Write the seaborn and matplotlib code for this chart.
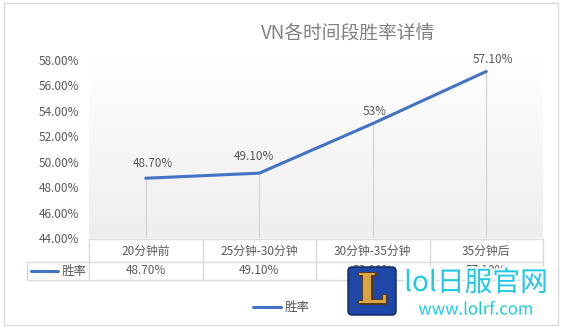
import numpy as np
import pandas as pd
import matplotlib
matplotlib.use("Agg")
import matplotlib.pyplot as plt
import seaborn as sns
from matplotlib.patches import Rectangle, FancyBboxPatch
import matplotlib.patheffects as pe

# ---- data ----
categories = ["20分钟前", "25分钟-30分钟", "30分钟-35分钟", "35分钟后"]
win_rate = [48.7, 49.1, 53.0, 57.1]
point_labels = ["48.70%", "49.10%", "53%", "57.10%"]
table_labels = ["48.70%", "49.10%", "53.00%", "57.10%"]
y_ticks = [44, 46, 48, 50, 52, 54, 56, 58]
y_tick_labels = ["44.00%", "46.00%", "48.00%", "50.00%", "52.00%", "54.00%", "56.00%", "58.00%"]
series_name = "胜率"
title = "VN各时间段胜率详情"

sns.set_theme(style="white")
plt.rcParams["font.family"] = ["Noto Sans CJK SC", "DejaVu Sans"]

W, H = 563, 330
fig = plt.figure(figsize=(W / 100, H / 100), dpi=100)
fig.patch.set_facecolor("white")


def fx(x):
    return x / W


def fy(y):
    return 1 - y / H


TXT = "#595959"
LINE = "#4472C4"
GRID = "#d9d9d9"

# ---- main plot ----
left, right, top, bottom = 89, 543, 60, 238
ax = fig.add_axes([fx(left), fy(bottom), fx(right) - fx(left), fy(top) - fy(bottom)])
grad = np.linspace(1.0, 0.0, 256).reshape(-1, 1)
ax.imshow(grad, extent=[-0.5, 3.5, 44, 58], aspect="auto", origin="lower",
          cmap=matplotlib.colors.LinearSegmentedColormap.from_list("g", ["#ffffff", "#eeeeee"]),
          zorder=0)
df = pd.DataFrame({"时段": categories, series_name: win_rate})
ax.vlines(range(len(categories)), 44, win_rate, color="#d4d4d4", lw=0.9, zorder=1)
sns.lineplot(data=df, x="时段", y=series_name, ax=ax, color=LINE, linewidth=2.2,
             sort=False, zorder=3)
ax.set_xlim(-0.5, 3.5)
ax.set_ylim(44, 58)
ax.set_yticks(y_ticks)
ax.set_yticklabels(y_tick_labels)
ax.set_xticks([])
ax.set_xlabel("")
ax.set_ylabel("")
for s in ax.spines.values():
    s.set_visible(False)
ax.tick_params(axis="y", length=0, pad=7, labelsize=8.5, labelcolor=TXT)
ax.grid(False)

offsets = [(7, 15), (-5, 17), (2, 12), (7, 12)]
for i, (v, lbl) in enumerate(zip(win_rate, point_labels)):
    ax.annotate(lbl, (i, v), xytext=offsets[i], textcoords="offset pixels",
                ha="center", va="center", fontsize=8.5, color=TXT, zorder=4)

# ---- overlay: title, table, legend, border, watermark ----
ov = fig.add_axes([0, 0, 1, 1])
ov.set_xlim(0, W)
ov.set_ylim(H, 0)
ov.axis("off")
ov.patch.set_alpha(0)
ov.set_zorder(5)

ov.add_patch(Rectangle((4, 3), 554, 322, fill=False, edgecolor=GRID, lw=1))
ov.text(348, 33, title, ha="center", va="center", fontsize=13.5, color="#7f7f7f")

# data table
col_w = (right - left) / 4
ov.plot([left, right], [239, 239], color=GRID, lw=1)
ov.plot([27, right], [262, 262], color=GRID, lw=1)
ov.plot([27, right], [280, 280], color=GRID, lw=1)
for k in range(5):
    x = left + k * col_w
    ov.plot([x, x], [239, 280], color=GRID, lw=1)
ov.plot([27, 27], [262, 280], color=GRID, lw=1)
for i, (c, t) in enumerate(zip(categories, table_labels)):
    cx = left + col_w * (i + 0.5)
    ov.text(cx, 251, c, ha="center", va="center", fontsize=8.5, color=TXT)
    ov.text(cx, 271, t, ha="center", va="center", fontsize=8.5, color=TXT)
ov.plot([31, 58], [271, 271], color=LINE, lw=2.2)
ov.text(74, 271, series_name, ha="center", va="center", fontsize=9, color=TXT)

# legend
ov.plot([253, 281], [307, 307], color=LINE, lw=2.2)
ov.text(285, 307, series_name, ha="left", va="center", fontsize=9, color=TXT)

# watermark
ov.add_patch(FancyBboxPatch((349, 268), 46, 46, boxstyle="round,pad=1,rounding_size=4",
                            facecolor="#1f47a8", edgecolor="#0d1f5a", lw=1, zorder=6))
ov.text(372, 291, "L", ha="center", va="center", fontsize=30, fontweight="bold",
        family="DejaVu Serif", color="#d9a441", zorder=7,
        path_effects=[pe.withStroke(linewidth=2, foreground="#5a3a10")])
stroke = [pe.withStroke(linewidth=3, foreground="white")]
ov.text(476, 283, "lol日服官网", ha="center", va="center", fontsize=20, color="#1ec8e6",
        zorder=7, path_effects=stroke)
ov.text(476, 310, "www.lolrf.com", ha="center", va="center", fontsize=12, color="#1ec8e6",
        zorder=7, path_effects=stroke)

fig.savefig("out.png", dpi=100)
